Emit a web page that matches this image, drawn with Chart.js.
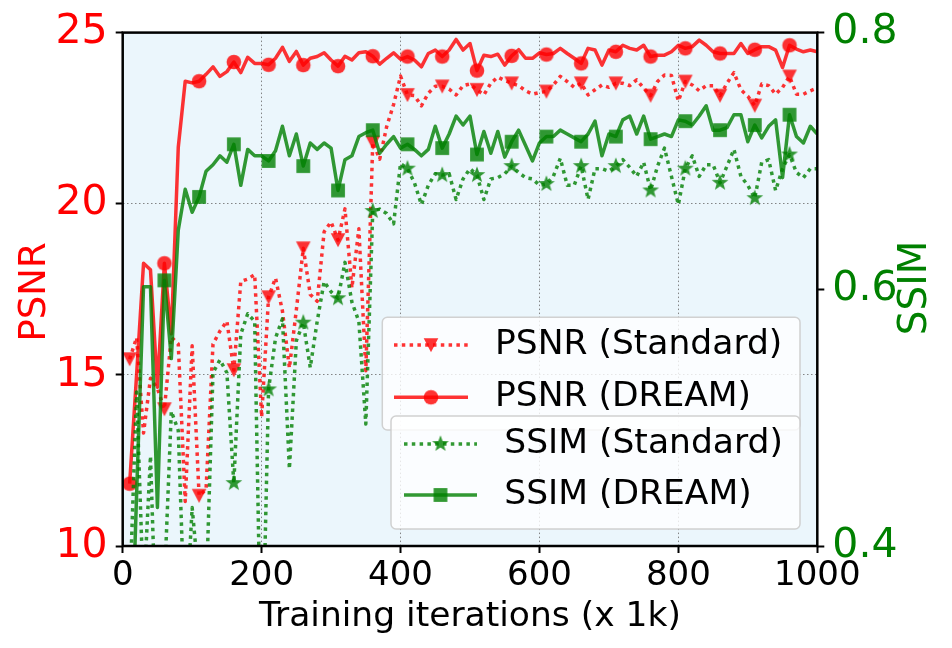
<!DOCTYPE html>
<html>
<head>
<meta charset="utf-8">
<script src="https://cdn.jsdelivr.net/npm/chart.js@4.4.0/dist/chart.umd.min.js"></script>
<style>
  html, body { margin: 0; padding: 0; background: #ffffff; }
  #contenedor { width: 952px; height: 648px; position: relative; }
</style>
</head>
<body>
<div id="contenedor"><canvas id="graficaEntrenamiento"></canvas></div>
<script>
// iteraciones de entrenamiento (x 1k), una evaluación cada 10k
const iteraciones = Array.from({ length: 100 }, (_, i) => (i + 1) * 10);

const psnrStandard = [
  15.46, 16.09, 13.3, 14.9, 14.6, 14.0, 16.1, 15.9, 11.3, 15.85,
  11.47, 11.65, 15.9, 16.28, 16.57, 15.14, 17.73, 17.8, 17.93, 13.77,
  17.27, 17.83, 16.86, 15.2, 16.9, 18.7, 17.35, 17.15, 19.18, 19.47,
  18.94, 19.85, 17.54, 19.27, 15.12, 21.79, 21.3, 22.25, 22.9, 23.73,
  23.18, 23.16, 22.86, 23.23, 23.43, 23.43, 23.35, 23.18, 23.45, 23.5,
  23.33, 23.18, 23.52, 23.7, 23.6, 23.52, 23.45, 23.3, 23.2, 23.25,
  23.28, 23.47, 23.72, 23.57, 23.4, 23.52, 23.18, 23.33, 23.47, 23.4,
  23.52, 23.52, 23.45, 23.62, 23.38, 23.16, 23.57, 23.76, 23.75, 23.0,
  23.57, 23.47, 23.3, 23.45, 23.45, 23.16, 23.52, 23.83, 23.33, 23.14,
  22.87, 23.5, 23.45, 23.2, 23.4, 23.72, 23.2, 23.2, 23.3, 23.38
];

const psnrDream = [
  11.82, 15.0, 18.26, 18.07, 14.64, 18.26, 16.2, 21.65, 23.58, 23.53,
  23.58, 23.78, 24.0, 23.72, 23.86, 24.14, 23.83, 24.28, 24.1, 24.1,
  24.06, 24.25, 24.57, 24.16, 24.45, 24.05, 24.25, 24.3, 24.41, 24.2,
  24.02, 24.31, 24.2, 24.41, 24.44, 24.31, 24.08, 24.25, 24.41, 24.22,
  24.3, 24.2, 24.0, 24.39, 24.49, 24.3, 24.49, 24.8, 24.49, 24.68,
  23.89, 24.34, 24.3, 24.37, 24.05, 24.32, 24.5, 24.25, 24.25, 24.41,
  24.36, 24.39, 24.54, 24.39, 24.25, 24.1, 24.54, 24.49, 24.05, 24.49,
  24.44, 24.63, 24.54, 24.49, 24.63, 24.3, 24.34, 24.34, 24.44, 24.63,
  24.54, 24.59, 24.78, 24.63, 24.44, 24.39, 24.39, 24.39, 24.68, 24.39,
  24.5, 24.59, 24.59, 24.49, 23.98, 24.63, 24.52, 24.44, 24.49, 24.44
];

const ssimStandard = [
  0.36, 0.52, 0.36, 0.47, 0.30, 0.37, 0.505, 0.49, 0.33, 0.43,
  0.37, 0.36, 0.535, 0.545, 0.535, 0.449, 0.565, 0.581, 0.575, 0.28,
  0.522, 0.562, 0.577, 0.46, 0.56, 0.574, 0.539, 0.575, 0.606, 0.598,
  0.593, 0.621, 0.59, 0.575, 0.495, 0.661, 0.6625, 0.659, 0.651, 0.698,
  0.694, 0.683, 0.666, 0.681, 0.690, 0.689, 0.690, 0.670, 0.686, 0.694,
  0.689, 0.670, 0.686, 0.687, 0.690, 0.696, 0.691, 0.687, 0.686, 0.681,
  0.682, 0.688, 0.702, 0.681, 0.681, 0.696, 0.670, 0.694, 0.694, 0.692,
  0.696, 0.701, 0.695, 0.688, 0.699, 0.677, 0.696, 0.710, 0.688, 0.666,
  0.694, 0.704, 0.688, 0.697, 0.697, 0.683, 0.696, 0.709, 0.688, 0.681,
  0.671, 0.699, 0.701, 0.677, 0.694, 0.705, 0.691, 0.687, 0.694, 0.694
];

const ssimDream = [
  0.27, 0.44, 0.602, 0.602, 0.43, 0.607, 0.546, 0.646, 0.678, 0.660,
  0.672, 0.692, 0.697, 0.704, 0.699, 0.713, 0.681, 0.709, 0.704, 0.704,
  0.700, 0.708, 0.727, 0.704, 0.721, 0.696, 0.714, 0.709, 0.714, 0.710,
  0.677, 0.701, 0.704, 0.719, 0.722, 0.724, 0.706, 0.713, 0.719, 0.710,
  0.713, 0.709, 0.704, 0.709, 0.727, 0.710, 0.721, 0.735, 0.728, 0.735,
  0.705, 0.723, 0.706, 0.723, 0.703, 0.715, 0.724, 0.712, 0.700, 0.714,
  0.719, 0.719, 0.724, 0.721, 0.718, 0.715, 0.721, 0.731, 0.704, 0.721,
  0.719, 0.732, 0.735, 0.721, 0.735, 0.717, 0.719, 0.721, 0.719, 0.732,
  0.731, 0.728, 0.735, 0.743, 0.724, 0.724, 0.726, 0.736, 0.736, 0.715,
  0.728, 0.718, 0.727, 0.732, 0.687, 0.736, 0.719, 0.714, 0.727, 0.721
];

const ticksX = [0, 200, 400, 600, 800, 1000];
const ticksPsnr = [10, 15, 20, 25];
const ticksSsim = [0.4, 0.6, 0.8];
const etiquetas = ['PSNR (Standard)', 'PSNR (DREAM)', 'SSIM (Standard)', 'SSIM (DREAM)'];

const ROJO = 'rgba(255,0,0,0.8)';
const VERDE = 'rgba(0,128,0,0.8)';
const FUENTE = '"DejaVu Sans", sans-serif';

// marcadores al estilo matplotlib (triángulo hacia abajo, estrella rellena...)
function marcador(tipo, color) {
  const c = document.createElement('canvas');
  c.width = 22;
  c.height = 22;
  const g = c.getContext('2d');
  g.translate(11, 11);
  g.fillStyle = color;
  g.beginPath();
  if (tipo === 'circulo') {
    g.arc(0, 0, 7.3, 0, Math.PI * 2);
  } else if (tipo === 'cuadrado') {
    g.rect(-6.9, -6.9, 13.8, 13.8);
  } else if (tipo === 'triangulo') {
    g.moveTo(-7.3, -6.8);
    g.lineTo(7.3, -6.8);
    g.lineTo(0, 7.3);
    g.closePath();
  } else {
    for (let k = 0; k < 10; k++) {
      const r = k % 2 ? 3.6 : 8.8;
      const a = -Math.PI / 2 + k * Math.PI / 5;
      g.lineTo(r * Math.cos(a), r * Math.sin(a));
    }
    g.closePath();
  }
  g.fill();
  return c;
}

const mTriangulo = marcador('triangulo', ROJO);
const mCirculo = marcador('circulo', ROJO);
const mEstrella = marcador('estrella', VERDE);
const mCuadrado = marcador('cuadrado', VERDE);

const cadaCinco = (ctx) => (ctx.dataIndex % 5 === 0 ? 8 : 0);
const puntos = (serie) => iteraciones.map((x, i) => ({ x: x, y: serie[i] }));
const punteado = [3.5, 4.3];
const grosor = 3.5;

// fondo azul claro del área de trazado
const fondo = {
  id: 'fondo',
  beforeDraw(chart) {
    const { ctx, chartArea: a } = chart;
    ctx.save();
    ctx.fillStyle = '#ebf6fc';
    ctx.fillRect(a.left, a.top, a.right - a.left, a.bottom - a.top);
    ctx.restore();
  }
};

function caja(ctx, x, y, w, h) {
  ctx.beginPath();
  ctx.roundRect(x, y, w, h, 5);
  ctx.fillStyle = 'rgba(255,255,255,0.8)';
  ctx.fill();
  ctx.lineWidth = 1.5;
  ctx.strokeStyle = 'rgba(204,204,204,0.9)';
  ctx.stroke();
}

function entrada(ctx, x1, x2, y, color, dash, imagen, xm, texto, xt) {
  ctx.save();
  ctx.strokeStyle = color;
  ctx.lineWidth = grosor;
  ctx.setLineDash(dash);
  ctx.beginPath();
  ctx.moveTo(x1, y);
  ctx.lineTo(x2, y);
  ctx.stroke();
  ctx.restore();
  ctx.drawImage(imagen, xm - imagen.width / 2, y - imagen.height / 2);
  ctx.fillStyle = '#000000';
  ctx.font = '34.5px ' + FUENTE;
  ctx.textAlign = 'left';
  ctx.textBaseline = 'middle';
  ctx.fillText(texto, xt, y);
}

// marco, leyendas dobles y títulos de ejes
const adornos = {
  id: 'adornos',
  afterDatasetsDraw(chart) {
    const { ctx, chartArea: a } = chart;
    ctx.save();
    ctx.strokeStyle = '#000000';
    ctx.lineWidth = 2.5;
    ctx.strokeRect(a.left, a.top, a.right - a.left, a.bottom - a.top);

    caja(ctx, 382.3, 317.3, 417.7, 112.7);
    entrada(ctx, 394, 468, 345, ROJO, punteado, mTriangulo, 431, etiquetas[0], 495);
    entrada(ctx, 394, 468, 397.3, ROJO, [], mCirculo, 431, etiquetas[1], 495);

    caja(ctx, 391, 416, 409, 113);
    entrada(ctx, 404, 477, 444, VERDE, punteado, mEstrella, 440.5, etiquetas[2], 504.3);
    entrada(ctx, 404, 477, 495, VERDE, [], mCuadrado, 440.5, etiquetas[3], 504.3);
    ctx.restore();
  },
  afterDraw(chart) {
    const ctx = chart.ctx;
    ctx.save();
    ctx.textAlign = 'center';
    ctx.textBaseline = 'alphabetic';
    ctx.fillStyle = '#000000';
    ctx.font = '34.5px ' + FUENTE;
    ctx.fillText('Training iterations (x 1k)', 470, 626);

    ctx.textBaseline = 'middle';
    ctx.save();
    ctx.translate(35, 292);
    ctx.rotate(-Math.PI / 2);
    ctx.fillStyle = '#ff0000';
    ctx.font = '37px ' + FUENTE;
    ctx.fillText('PSNR', 0, 0);
    ctx.restore();

    ctx.save();
    ctx.translate(916, 288);
    ctx.rotate(-Math.PI / 2);
    ctx.fillStyle = '#008000';
    ctx.font = '39px ' + FUENTE;
    ctx.fillText('SSIM', 0, 0);
    ctx.restore();
    ctx.restore();
  }
};

const rejilla = {
  color: 'rgba(120,120,120,0.9)',
  lineWidth: 1,
  tickLength: 7,
  tickColor: '#000000',
  tickWidth: 2
};

new Chart(document.getElementById('graficaEntrenamiento'), {
  type: 'line',
  data: {
    datasets: [
      {
        label: etiquetas[0], data: puntos(psnrStandard), yAxisID: 'yPsnr', order: 4,
        borderColor: ROJO, borderWidth: grosor, borderDash: punteado,
        pointStyle: mTriangulo, pointRadius: cadaCinco, pointHoverRadius: 0
      },
      {
        label: etiquetas[1], data: puntos(psnrDream), yAxisID: 'yPsnr', order: 3,
        borderColor: ROJO, borderWidth: grosor,
        pointStyle: mCirculo, pointRadius: cadaCinco, pointHoverRadius: 0
      },
      {
        label: etiquetas[2], data: puntos(ssimStandard), yAxisID: 'ySsim', order: 2,
        borderColor: VERDE, borderWidth: grosor, borderDash: punteado,
        pointStyle: mEstrella, pointRadius: cadaCinco, pointHoverRadius: 0
      },
      {
        label: etiquetas[3], data: puntos(ssimDream), yAxisID: 'ySsim', order: 1,
        borderColor: VERDE, borderWidth: grosor,
        pointStyle: mCuadrado, pointRadius: cadaCinco, pointHoverRadius: 0
      }
    ]
  },
  options: {
    responsive: true,
    maintainAspectRatio: false,
    animation: false,
    events: [],
    elements: { line: { tension: 0, borderJoinStyle: 'round' } },
    layout: { padding: { top: 29, left: 0, right: 0, bottom: 0 } },
    plugins: { legend: { display: false }, tooltip: { enabled: false } },
    scales: {
      x: {
        type: 'linear', min: 0, max: 1000,
        afterBuildTicks: (eje) => { eje.ticks = ticksX.map(v => ({ value: v })); },
        afterFit: (eje) => { eje.height = 102; },
        grid: rejilla,
        border: { display: false, dash: [1.5, 2.5] },
        ticks: {
          color: '#000000', font: { family: FUENTE, size: 34 }, padding: 3,
          maxRotation: 0, autoSkip: false, callback: (v) => String(v)
        }
      },
      yPsnr: {
        type: 'linear', position: 'left', min: 10, max: 25,
        afterBuildTicks: (eje) => { eje.ticks = ticksPsnr.map(v => ({ value: v })); },
        afterFit: (eje) => { eje.width = 122.7; },
        grid: rejilla,
        border: { display: false, dash: [1.5, 2.5] },
        ticks: { color: '#ff0000', font: { family: FUENTE, size: 41 }, padding: 8 }
      },
      ySsim: {
        type: 'linear', position: 'right', min: 0.4, max: 0.8,
        afterBuildTicks: (eje) => { eje.ticks = ticksSsim.map(v => ({ value: v })); },
        afterFit: (eje) => { eje.width = 134.7; },
        grid: Object.assign({}, rejilla, { drawOnChartArea: false }),
        border: { display: false },
        ticks: { color: '#008000', font: { family: FUENTE, size: 41 }, padding: 8, callback: (v) => v.toFixed(1) }
      }
    }
  },
  plugins: [fondo, adornos]
});
</script>
</body>
</html>
